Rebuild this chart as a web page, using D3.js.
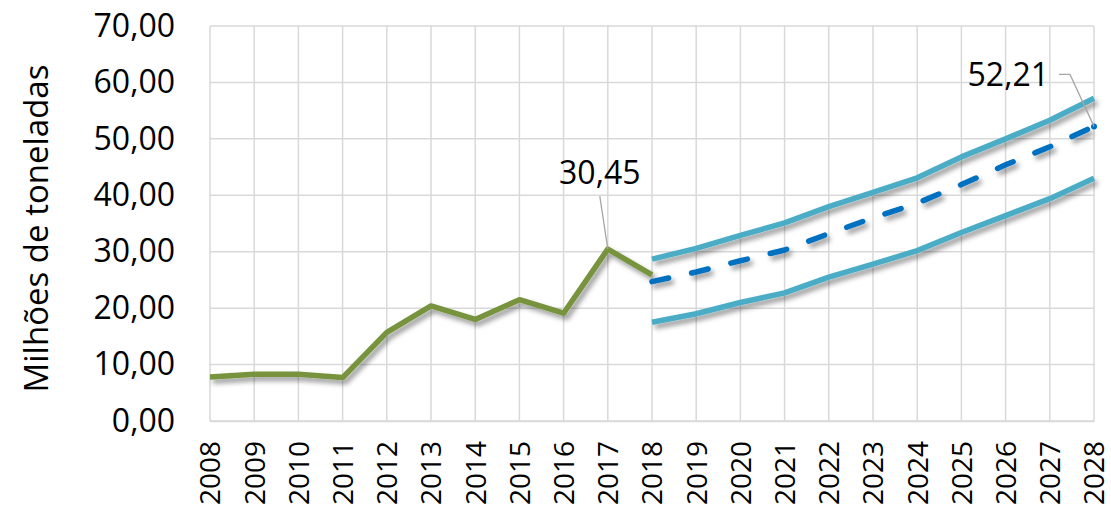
<!DOCTYPE html>
<html>
<head>
<meta charset="utf-8">
<script src="https://cdn.jsdelivr.net/npm/d3@7"></script>
<style>
  body { margin: 0; background: #fff; }
  text { font-family: "Open Sans", sans-serif; fill: #000; }
</style>
</head>
<body>
<div id="chart"></div>
<script>
// years on the x axis
const years = d3.range(2008, 2029);
const yTicks = [0, 10, 20, 30, 40, 50, 60, 70];

// historical series 2008-2018
const histYears = [2008, 2009, 2010, 2011, 2012, 2013, 2014, 2015, 2016, 2017, 2018];
const histValues = [7.8, 8.3, 8.3, 7.7, 15.7, 20.4, 18.0, 21.5, 19.1, 30.45, 25.9];

// projections 2018-2028
const projYears = [2018, 2019, 2020, 2021, 2022, 2023, 2024, 2025, 2026, 2027, 2028];
const upperValues = [28.7, 30.6, 32.9, 35.1, 38.0, 40.5, 43.1, 46.8, 50.0, 53.3, 57.2];
const projValues = [24.7, 26.4, 28.4, 30.3, 33.2, 36.0, 38.6, 41.9, 45.4, 48.6, 52.21];
const lowerValues = [17.5, 19.0, 21.0, 22.7, 25.5, 27.8, 30.2, 33.4, 36.4, 39.4, 43.0];

const margin = { top: 26, right: 17, bottom: 98, left: 210 },
      width = 1111 - margin.left - margin.right,
      height = 519 - margin.top - margin.bottom;

const svg = d3.select("#chart")
  .append("svg")
  .attr("width", 1111)
  .attr("height", 519);

const defs = svg.append("defs");
defs.append("filter")
  .attr("id", "shadow")
  .attr("x", "-10%").attr("y", "-20%")
  .attr("width", "120%").attr("height", "140%")
  .append("feDropShadow")
  .attr("dx", 3).attr("dy", 4)
  .attr("stdDeviation", 2.5)
  .attr("flood-color", "#000")
  .attr("flood-opacity", 0.4);

const g = svg.append("g")
  .attr("transform", `translate(${margin.left},${margin.top})`);

const x = d3.scaleLinear()
  .domain([2008, 2028])
  .range([0, width]);

const y = d3.scaleLinear()
  .domain([0, 70])
  .range([height, 0]);

// gridlines
g.append("g")
  .selectAll("line.h")
  .data(yTicks)
  .enter()
  .append("line")
  .attr("x1", 0)
  .attr("x2", width)
  .attr("y1", d => y(d))
  .attr("y2", d => y(d))
  .attr("stroke", "#D9D9D9")
  .attr("stroke-width", 1.5);

g.append("g")
  .selectAll("line.v")
  .data(years)
  .enter()
  .append("line")
  .attr("x1", d => x(d))
  .attr("x2", d => x(d))
  .attr("y1", 0)
  .attr("y2", height)
  .attr("stroke", "#D9D9D9")
  .attr("stroke-width", 1.5);

// y axis labels
const yAxis = g.append("g")
  .call(d3.axisLeft(y).tickValues(yTicks).tickSize(0).tickPadding(35)
    .tickFormat(d => d3.format(".2f")(d).replace(".", ",")));
yAxis.select(".domain").remove();
yAxis.selectAll("text")
  .style("font-size", "32px")
  .attr("font-family", null);

// x axis labels
const xAxis = g.append("g")
  .attr("transform", `translate(0,${height})`)
  .call(d3.axisBottom(x).tickValues(years).tickSize(0).tickFormat(d3.format("d")));
xAxis.select(".domain")
  .attr("stroke", "#D9D9D9")
  .attr("stroke-width", 1.5);
xAxis.selectAll("text")
  .style("font-size", "28px")
  .attr("font-family", null)
  .attr("text-anchor", "end")
  .attr("transform", "rotate(-90)")
  .attr("x", -20)
  .attr("y", 0)
  .attr("dy", "0.35em");

// axis title
svg.append("text")
  .attr("transform", `translate(48,${margin.top + height / 2 + 5}) rotate(-90)`)
  .attr("text-anchor", "middle")
  .style("font-size", "33px")
  .text("Milhões de toneladas");

const line = d3.line()
  .x(d => x(d[0]))
  .y(d => y(d[1]));

// historical line
g.append("path")
  .datum(d3.zip(histYears, histValues))
  .attr("d", line)
  .attr("fill", "none")
  .attr("stroke", "#77933C")
  .attr("stroke-width", 5.5)
  .attr("stroke-linejoin", "round")
  .attr("filter", "url(#shadow)");

// upper and lower bands
[upperValues, lowerValues].forEach(vals => {
  g.append("path")
    .datum(d3.zip(projYears, vals))
    .attr("d", line)
    .attr("fill", "none")
    .attr("stroke", "#4BACC6")
    .attr("stroke-width", 5.5)
    .attr("stroke-linejoin", "round")
    .attr("filter", "url(#shadow)");
});

// projection (dashed)
g.append("path")
  .datum(d3.zip(projYears, projValues))
  .attr("d", line)
  .attr("fill", "none")
  .attr("stroke", "#0070C0")
  .attr("stroke-width", 5.5)
  .attr("stroke-dasharray", "17,23.5")
  .attr("stroke-linecap", "round")
  .attr("filter", "url(#shadow)");

g.append("circle")
  .attr("cx", x(2028))
  .attr("cy", y(52.21))
  .attr("r", 3)
  .attr("fill", "#0070C0");

// data labels with leader lines
const fmt = v => d3.format(".2f")(v).replace(".", ",");

g.append("path")
  .attr("d", `M${x(2017) - 8},${y(30.45) - 53} L${x(2017)},${y(30.45)}`)
  .attr("stroke", "#A6A6A6")
  .attr("stroke-width", 1.3)
  .attr("fill", "none");
g.append("text")
  .attr("x", x(2017) - 8)
  .attr("y", y(30.45) - 65)
  .attr("text-anchor", "middle")
  .style("font-size", "32px")
  .text(fmt(30.45));

g.append("path")
  .attr("d", `M${x(2028) - 35},${y(52.21) - 52} L${x(2028) - 24},${y(52.21) - 52} L${x(2028)},${y(52.21)}`)
  .attr("stroke", "#A6A6A6")
  .attr("stroke-width", 1.3)
  .attr("fill", "none");
g.append("text")
  .attr("x", x(2028) - 45)
  .attr("y", y(52.21) - 40)
  .attr("text-anchor", "end")
  .style("font-size", "32px")
  .text(fmt(52.21));
</script>
</body>
</html>
